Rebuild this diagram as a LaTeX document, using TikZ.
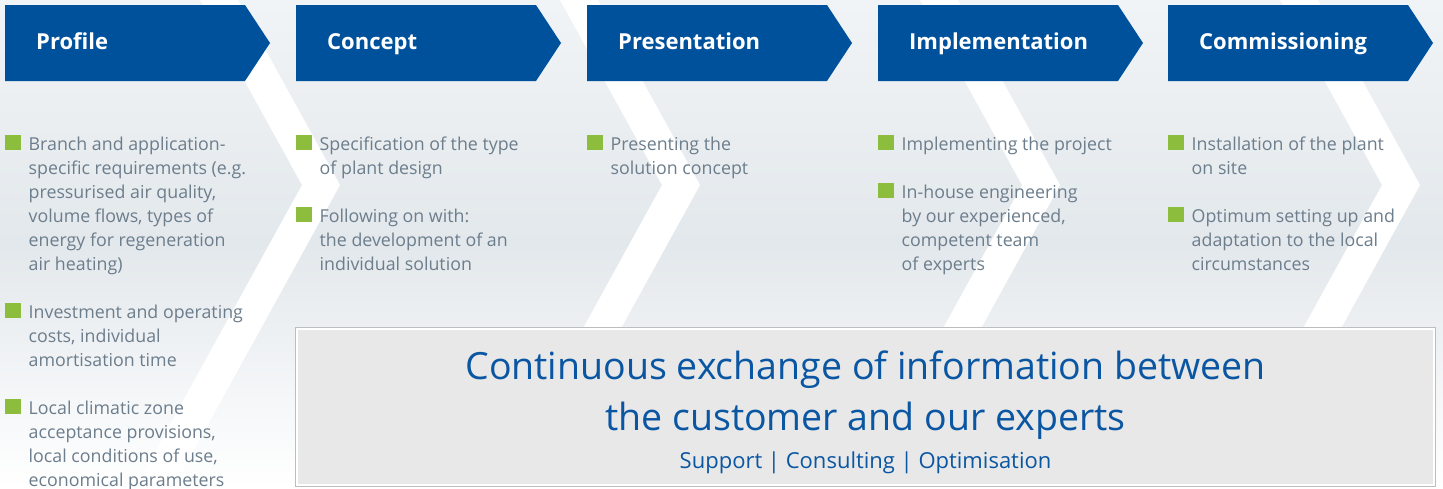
\documentclass[tikz,border=0pt]{standalone}
\usepackage{fontspec}
\setmainfont{Open Sans}
\definecolor{hdrblue}{HTML}{00519C}
\definecolor{txtgrey}{HTML}{6C7D8C}
\definecolor{bulgreen}{HTML}{8CBD3C}
\definecolor{bigblue}{HTML}{0A56A2}
\definecolor{bgtop}{HTML}{F1F4F6}
\definecolor{bgmid}{HTML}{E3E8EC}
\definecolor{boxfill}{HTML}{E8E8E8}
\definecolor{boxedge}{HTML}{BDBDBD}
\newcommand\itm[1]{\parbox[t]{300pt}{\raggedright #1}}
\begin{document}
\begin{tikzpicture}[x=1pt,y=-1pt,
  hdrtext/.style={anchor=base west, inner sep=0pt, text=white, font=\fontsize{22}{26}\selectfont\bfseries},
  itemtext/.style={anchor=base west, inner sep=0pt, text=txtgrey, font=\fontsize{17.8}{24}\selectfont},
  bulletsq/.style={fill=bulgreen},
  chev/.style={fill=white},
  hdrshape/.style={fill=hdrblue},
  bigtext/.style={anchor=base, inner sep=0pt, text=bigblue, font=\fontsize{37.5}{51}\selectfont},
  subtext/.style={anchor=base, inner sep=0pt, text=bigblue, font=\fontsize{22}{26}\selectfont},
  infobox/.style={fill=boxfill, draw=white, line width=2pt, minimum width=1137pt, minimum height=156pt, inner sep=0pt}
]
\useasboundingbox (0,0) rectangle (1443,488);
\shade[top color=bgtop, bottom color=white, middle color=bgmid] (0,0) rectangle (1443,488);
% white chevrons
\foreach \a in {302,662,1022,1382}{
  \fill[chev] (\a-102,0) -- (\a-64,0) -- (\a+38,185) -- (\a+38-167,488) -- (\a-167,488) -- (\a,185) -- cycle;
}
% headers
\foreach \x/\t/\n in {5/Profile/h1, 296/Concept/h2, 587/Presentation/h3, 878/Implementation/h4, 1168/Commissioning/h5}{
  \fill[hdrshape] (\x,5) -- (\x+240,5) -- (\x+265,43) -- (\x+240,81) -- (\x,81) -- cycle;
  \node[hdrtext] (\n) at (\x+31,49.5) {\t};
}
% bullets
\foreach \x/\b in {5/150,5/318,5/414, 296/150,296/222, 587/150, 878/150,878/198, 1168/150,1168/222}{
  \fill[bulletsq] (\x,\b-0.5) rectangle (\x+15.5,\b-15.5);
}
% column 1
\node[itemtext] (p1) at (28.5,150) {\itm{Branch and application-\\specific requirements (e.g.\\pressurised air quality,\\volume flows, types of\\energy for regeneration\\air heating)}};
\node[itemtext] (p2) at (28.5,318) {\itm{Investment and operating\\costs, individual\\amortisation time}};
\node[itemtext] (p3) at (28.5,414) {\itm{Local climatic zone\\acceptance provisions,\\local conditions of use,\\economical parameters}};
% column 2
\node[itemtext] (c1) at (319.5,150) {\itm{Specification of the type\\of plant design}};
\node[itemtext] (c2) at (319.5,222) {\itm{Following on with:\\the development of an\\individual solution}};
% column 3
\node[itemtext] (r1) at (610.5,150) {\itm{Presenting the\\solution concept}};
% column 4
\node[itemtext] (i1) at (901.5,150) {\itm{Implementing the project}};
\node[itemtext] (i2) at (901.5,198) {\itm{In-house engineering\\by our experienced,\\competent team\\of experts}};
% column 5
\node[itemtext] (m1) at (1191.5,150) {\itm{Installation of the plant\\on site}};
\node[itemtext] (m2) at (1191.5,222) {\itm{Optimum setting up and\\adaptation to the local\\circumstances}};
% bottom box
\fill[boxedge] (295,327) rectangle (1436,487);
\node[infobox] (box) at (865.5,406.5) {};
\node[bigtext] (bt) at (865.5,379) {\parbox[t]{1100pt}{\centering Continuous exchange of information between\\the customer and our experts}};
\node[subtext] (st) at (865.5,468) {Support | Consulting | Optimisation};
\end{tikzpicture}
\end{document}
